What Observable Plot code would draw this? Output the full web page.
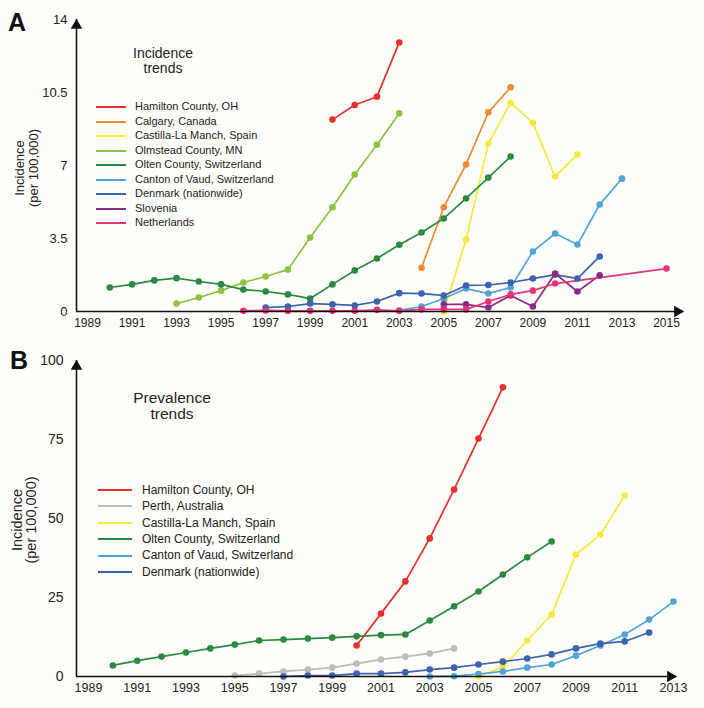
<!DOCTYPE html>
<html><head><meta charset="utf-8">
<script src="https://cdn.jsdelivr.net/npm/d3@7"></script>
<script src="https://cdn.jsdelivr.net/npm/@observablehq/plot@0.6"></script>
<style>
html,body{margin:0;padding:0;background:#fefefb;}
#wrap{position:relative;width:704px;height:708px;overflow:hidden;font-family:"Liberation Sans",Arial,Helvetica,sans-serif;color:#222;}
.abs{position:absolute;}
.panel{position:absolute;left:0;}
.letter{position:absolute;font-weight:bold;font-size:25px;line-height:1;color:#111;}
.title{position:absolute;text-align:center;color:#222;}
.ylab{position:absolute;transform:rotate(-90deg);text-align:center;white-space:nowrap;color:#222;}
.leg{position:absolute;}
.leg .row{position:absolute;left:0;white-space:nowrap;}
.leg .sw{position:absolute;left:0;height:2px;}
.leg .tx{position:absolute;}
</style></head>
<body><div id="wrap"></div>
<script>
// ---------- Panel A: Incidence ----------
const incNames = ["Hamilton County, OH","Calgary, Canada","Castilla-La Manch, Spain","Olmstead County, MN","Olten County, Switzerland","Canton of Vaud, Switzerland","Denmark (nationwide)","Slovenia","Netherlands"];
const incColors = ["#e8312c","#f28a32","#f7e93c","#8cc440","#2b8a3f","#52a4d8","#3c63ad","#8a2a87","#e83278"];

const incHamiltonYears = [2000,2001,2002,2003];
const incHamiltonValues = [9.2,9.9,10.3,12.9];
const incCalgaryYears = [2004,2005,2006,2007,2008];
const incCalgaryValues = [2.1,5.0,7.05,9.55,10.75];
const incCastillaYears = [2005,2006,2007,2008,2009,2010,2011];
const incCastillaValues = [0,3.45,8.05,10.0,9.05,6.47,7.53];
const incOlmsteadYears = [1993,1994,1995,1996,1997,1998,1999,2000,2001,2002,2003];
const incOlmsteadValues = [0.38,0.67,1.0,1.39,1.68,2.01,3.55,5.0,6.57,8.0,9.5];
const incOltenYears = [1990,1991,1992,1993,1994,1995,1996,1997,1998,1999,2000,2001,2002,2003,2004,2005,2006,2007,2008];
const incOltenValues = [1.15,1.3,1.49,1.6,1.44,1.3,1.05,0.96,0.82,0.62,1.3,1.97,2.54,3.2,3.79,4.46,5.42,6.42,7.43];
const incVaudYears = [2003,2004,2005,2006,2007,2008,2009,2010,2011,2012,2013];
const incVaudValues = [0.05,0.24,0.62,1.1,0.86,1.15,2.88,3.74,3.21,5.13,6.37];
const incDenmarkYears = [1997,1998,1999,2000,2001,2002,2003,2004,2005,2006,2007,2008,2009,2010,2011,2012];
const incDenmarkValues = [0.19,0.24,0.38,0.34,0.29,0.48,0.88,0.86,0.77,1.25,1.27,1.39,1.58,1.77,1.58,2.64];
const incSloveniaYears = [2005,2006,2007,2008,2009,2010,2011,2012];
const incSloveniaValues = [0.34,0.34,0.19,0.77,0.24,1.82,0.96,1.73];
const incNetherlandsYears = [1996,1997,1998,1999,2000,2001,2002,2003,2004,2005,2006,2007,2008,2009,2010,2015];
const incNetherlandsValues = [0.03,0.05,0.03,0.03,0.03,0.03,0.08,0.03,0.1,0.1,0.1,0.48,0.82,1.0,1.34,2.06];

const incYTicks = [0,3.5,7,10.5,14];
const incXTicks = [1989,1991,1993,1995,1997,1999,2001,2003,2005,2007,2009,2011,2013,2015];

// ---------- Panel B: Prevalence ----------
const prevNames = ["Hamilton County, OH","Perth, Australia","Castilla-La Manch, Spain","Olten County, Switzerland","Canton of Vaud, Switzerland","Denmark (nationwide)"];
const prevColors = ["#e8312c","#bdbcbb","#f7e93c","#2b8a3f","#52a4d8","#3c63ad"];

const prevHamiltonYears = [2000,2001,2002,2003,2004,2005,2006];
const prevHamiltonValues = [9.8,19.9,30.1,43.7,59.2,75.3,91.5];
const prevPerthYears = [1995,1996,1997,1998,1999,2000,2001,2002,2003,2004];
const prevPerthValues = [0.3,0.9,1.6,2.2,2.8,4.1,5.4,6.3,7.3,8.9];
const prevCastillaYears = [2005,2006,2007,2008,2009,2010,2011];
const prevCastillaValues = [0,3.0,11.4,19.6,38.6,44.9,57.3];
const prevOltenYears = [1990,1991,1992,1993,1994,1995,1996,1997,1998,1999,2000,2001,2002,2003,2004,2005,2006,2007,2008];
const prevOltenValues = [3.5,5.0,6.3,7.6,8.9,10.1,11.4,11.7,12.0,12.3,12.7,13.1,13.3,17.7,22.2,26.9,32.3,37.7,42.7];
const prevVaudYears = [2003,2004,2005,2006,2007,2008,2009,2010,2011,2012,2013];
const prevVaudValues = [0,0.1,0.8,1.6,2.8,3.8,6.6,9.8,13.3,18.0,23.7];
const prevDenmarkYears = [1997,1998,1999,2000,2001,2002,2003,2004,2005,2006,2007,2008,2009,2010,2011,2012];
const prevDenmarkValues = [0,0.3,0.3,0.9,0.9,1.3,2.2,2.8,3.8,4.7,5.7,7.0,8.9,10.4,11.1,13.9];

const prevYTicks = [0,25,50,75,100];
const prevXTicks = [1989,1991,1993,1995,1997,1999,2001,2003,2005,2007,2009,2011,2013];

// ---------- build tidy tables ----------
function tidy(series) {
  const out = [];
  for (const [name, years, values] of series) years.forEach((yr, i) => out.push({series: name, year: yr, value: values[i]}));
  return out;
}
const incData = tidy([
  [incNames[0], incHamiltonYears, incHamiltonValues],
  [incNames[1], incCalgaryYears, incCalgaryValues],
  [incNames[2], incCastillaYears, incCastillaValues],
  [incNames[3], incOlmsteadYears, incOlmsteadValues],
  [incNames[4], incOltenYears, incOltenValues],
  [incNames[5], incVaudYears, incVaudValues],
  [incNames[6], incDenmarkYears, incDenmarkValues],
  [incNames[7], incSloveniaYears, incSloveniaValues],
  [incNames[8], incNetherlandsYears, incNetherlandsValues]
]);
const prevData = tidy([
  [prevNames[0], prevHamiltonYears, prevHamiltonValues],
  [prevNames[1], prevPerthYears, prevPerthValues],
  [prevNames[2], prevCastillaYears, prevCastillaValues],
  [prevNames[3], prevOltenYears, prevOltenValues],
  [prevNames[4], prevVaudYears, prevVaudValues],
  [prevNames[5], prevDenmarkYears, prevDenmarkValues]
]);

const FONT = '"Liberation Sans", Arial, Helvetica, sans-serif';

function panel({data, names, colors, xDomain, yMax, yTicks, xTicks, height, mt, mb, ml, mr, yFont, xFont, yPad, xPad}) {
  const x0 = xDomain[0], x1 = xDomain[1];
  return Plot.plot({
    width: 704, height,
    marginTop: mt, marginBottom: mb, marginLeft: ml, marginRight: mr,
    x: {domain: xDomain},
    y: {domain: [0, yMax]},
    color: {domain: names, range: colors},
    style: {background: "transparent", fontFamily: FONT, color: "#222", overflow: "visible"},
    marks: [
      Plot.axisY({ticks: yTicks, tickSize: 0, tickPadding: yPad, fontSize: yFont, label: null, tickFormat: d => String(d)}),
      Plot.axisX({ticks: xTicks, tickSize: 0, tickPadding: xPad, fontSize: xFont, label: null, tickFormat: d => String(d)}),
      Plot.line(data, {x: "year", y: "value", z: "series", stroke: "series", strokeWidth: 1.7}),
      Plot.dot(data, {x: "year", y: "value", fill: "series", r: 3.3}),
      Plot.ruleY([0], {x1: x0, x2: x1, stroke: "#111", strokeWidth: 1.6}),
      Plot.ruleX([x0], {y1: 0, y2: yMax, stroke: "#111", strokeWidth: 1.6}),
      Plot.dot([yMax], {x: x0, y: d => d, symbol: "triangle", r: 4.3, fill: "#111", stroke: null, dy: 6}),
      Plot.dot([x1], {x: d => d, y: 0, symbol: "triangle", r: 4.3, fill: "#111", stroke: null, rotate: 90, dx: -6})
    ]
  });
}

const wrap = document.getElementById("wrap");

// Panel A: axis at x=76, 1989 at ~87, 2015 at ~666
const aPx = (666 - 87) / 26;
const plotA = panel({
  data: incData, names: incNames, colors: incColors,
  xDomain: [1989 - 11 / aPx, 2015 + 17 / aPx], yMax: 14,
  yTicks: incYTicks, xTicks: incXTicks,
  height: 340, mt: 19, mb: 29, ml: 76, mr: 21,
  yFont: 13, xFont: 12, yPad: 9, xPad: 7
});
plotA.classList.add("panel"); plotA.style.top = "0px";
wrap.appendChild(plotA);

// Panel B: axis at x=76, 1989 at ~88, 2013 at ~673
const bPx = (673 - 88) / 24;
const plotB = panel({
  data: prevData, names: prevNames, colors: prevColors,
  xDomain: [1989 - 12 / bPx, 2013 + 3 / bPx], yMax: 100,
  yTicks: prevYTicks, xTicks: prevXTicks,
  height: 363, mt: 15, mb: 32, ml: 76, mr: 28,
  yFont: 14, xFont: 12.5, yPad: 13, xPad: 7
});
plotB.classList.add("panel"); plotB.style.top = "345px";
wrap.appendChild(plotB);

// ---------- annotations ----------
function addDiv(cls, html, css) {
  const d = document.createElement("div");
  d.className = cls; d.innerHTML = html;
  Object.assign(d.style, css);
  wrap.appendChild(d);
  return d;
}
addDiv("letter", "A", {left: "8px", top: "10px"});
addDiv("letter", "B", {left: "10px", top: "348px"});
addDiv("title", "Incidence<br>trends", {left: "103px", width: "120px", top: "46px", fontSize: "14px", lineHeight: "15px"});
addDiv("title", "Prevalence<br>trends", {left: "112px", width: "120px", top: "390px", fontSize: "15.5px", lineHeight: "16px"});
addDiv("ylab", "Incidence<br>(per 100,000)", {left: "-23px", width: "100px", top: "154px", fontSize: "13px", lineHeight: "14px"});
addDiv("ylab", "Incidence<br>(per 100,000)", {left: "-26px", width: "100px", top: "506px", fontSize: "14.5px", lineHeight: "14px"});

function legend(names, colors, {left, top, step, lineW, gap, font}) {
  const lg = document.createElement("div");
  lg.className = "leg";
  Object.assign(lg.style, {left: left + "px", top: top + "px"});
  names.forEach((n, i) => {
    const row = document.createElement("div");
    row.className = "row";
    row.style.top = (i * step) + "px";
    const sw = document.createElement("div");
    sw.className = "sw";
    Object.assign(sw.style, {width: lineW + "px", background: colors[i], top: "-1px"});
    const tx = document.createElement("div");
    tx.className = "tx";
    tx.textContent = n;
    Object.assign(tx.style, {left: (lineW + gap) + "px", top: (-font * 0.6) + "px", fontSize: font + "px", lineHeight: (font * 1.2) + "px"});
    row.appendChild(sw); row.appendChild(tx);
    lg.appendChild(row);
  });
  wrap.appendChild(lg);
}
legend(incNames, incColors, {left: 96, top: 107, step: 14.5, lineW: 30, gap: 9, font: 11});
legend(prevNames, prevColors, {left: 98, top: 490, step: 16.4, lineW: 34, gap: 10, font: 12});
</script>
</body></html>
